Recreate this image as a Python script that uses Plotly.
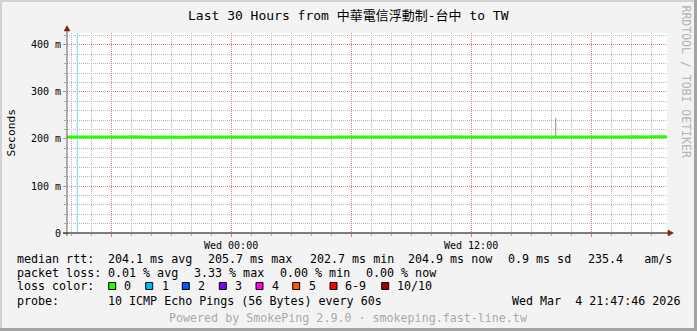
import pandas as pd
import plotly.graph_objects as go

# ---------------- data ----------------
t_start = pd.Timestamp("2026-03-03 15:47:46")
t_end = pd.Timestamp("2026-03-04 21:47:46")

median_rtt = [
    204.2, 204.0, 204.3, 204.1, 203.9, 204.4, 204.0, 204.2, 204.5, 204.1,
    203.8, 204.0, 204.3, 204.6, 204.1, 204.0, 204.2, 203.9, 204.4, 204.1,
    204.0, 204.3, 204.5, 204.2, 203.9, 204.1, 204.0, 204.6, 204.2, 204.0,
    204.1, 203.8, 204.3, 204.2, 204.4, 204.0, 204.1, 204.5, 204.0, 204.2,
    204.3, 204.0, 203.9, 204.1, 204.4, 204.2, 204.0, 204.3, 204.1, 204.6,
    204.0, 204.2, 204.1, 203.9, 204.3, 204.0, 204.5, 204.2, 204.1, 204.0,
    204.4, 204.1, 203.8, 204.2, 204.3, 204.0, 204.1, 204.5, 204.2, 204.0,
    204.3, 204.1, 204.0, 204.4, 203.9, 204.2, 204.1, 204.6, 204.0, 204.3,
    204.1, 204.2, 204.0, 204.4, 204.1, 203.9, 204.3, 204.2, 204.0, 204.5,
    204.1, 204.0, 204.3, 204.2, 204.1, 203.8, 204.4, 204.0, 204.2, 204.1,
    204.3, 204.0, 204.5, 204.1, 204.2, 203.9, 204.0, 204.4, 204.1, 204.2,
    204.0, 204.3, 204.1, 204.6, 204.0, 204.2, 204.1, 204.9, 204.3, 204.9,
    204.9,
]
n = len(median_rtt)
times = [t_start + (t_end - t_start) * i / (n - 1) for i in range(n)]

smoke_time = ["2026-03-04 16:14:00"]
smoke_lo = [203.0]
smoke_hi = [245.0]

vrule_time = ["2026-03-03 16:19:00"]

y_tickvals = [0, 100, 200, 300, 400]
y_ticktext = ["0", "100 m", "200 m", "300 m", "400 m"]
x_tickvals = ["2026-03-03 18:00", "2026-03-04 00:00", "2026-03-04 06:00",
              "2026-03-04 12:00", "2026-03-04 18:00"]
x_ticktext = ["", "Wed 00:00", "", "Wed 12:00", ""]

title_text = "Last 30 Hours from 中華電信浮動制-台中 to TW"
row_rtt = [("median rtt:", 16), ("204.1 ms avg", 107.3), ("205.7 ms max", 207.3),
           ("202.7 ms min", 309), ("204.9 ms now", 407.3), ("0.9 ms sd", 507.3),
           ("235.4   am/s", 586.7)]
row_loss = [("packet loss:", 16), ("0.01 % avg", 107.3), ("3.33 % max", 193.3),
            ("0.00 % min", 279.3), ("0.00 % now", 365)]
loss_labels = ["0", "1", "2", "3", "4", "5", "6-9", "10/10"]
loss_colors = ["#26ff00", "#00b8ff", "#0059ff", "#7e00ff", "#ff00ea",
               "#ff5500", "#ff0000", "#a10000"]
loss_box_x = [108.7, 145.7, 182.3, 219.3, 256, 292.7, 330, 381.7]
loss_text_x = [122.7, 160.7, 197.3, 234, 270.7, 307.7, 344.3, 395.7]
probe_text = "10 ICMP Echo Pings (56 Bytes) every 60s"
date_text = "Wed Mar  4 21:47:46 2026"
powered_text = "Powered by SmokePing 2.9.0 · smokeping.fast-line.tw"
side_text = "RRDTOOL / TOBI OETIKER"

# ---------------- layout geometry ----------------
W, H = 697, 331
L, R, T, B = 67, 30, 33, 98
PW, PH = W - L - R, H - T - B


def X(px):
    return (px - L) / PW


def Y(py):
    return (H - B - py) / PH


MONO = "DejaVu Sans Mono, Noto Sans CJK TC, monospace"

fig = go.Figure()

# vertical rule (blue)
for vt in vrule_time:
    fig.add_trace(go.Scatter(x=[vt, vt], y=[0, 425.5], mode="lines",
                             line=dict(color="#a6dcf2", width=1.5),
                             hoverinfo="skip", showlegend=False))

# smoke
for st, lo, hi in zip(smoke_time, smoke_lo, smoke_hi):
    fig.add_trace(go.Scatter(x=[st, st], y=[lo, hi], mode="lines",
                             line=dict(color="#8c8c8c", width=1),
                             hoverinfo="skip", showlegend=False))

# median line
fig.add_trace(go.Scatter(x=times, y=median_rtt, mode="lines",
                         line=dict(color="#26ff00", width=3),
                         showlegend=False))

grid_minor = "#b8b8b8"
grid_major = "#e08080"

fig.update_layout(
    width=W, height=H,
    margin=dict(l=L, r=R, t=T, b=B),
    paper_bgcolor="#f3f3f3",
    plot_bgcolor="#ffffff",
    font=dict(family=MONO, size=10, color="#000000"),
    showlegend=False,
    xaxis=dict(
        type="date", range=[t_start, t_end],
        tickvals=x_tickvals, ticktext=x_ticktext,
        showgrid=True, gridcolor=grid_major, griddash="1px,1px", gridwidth=1,
        ticks="outside", ticklen=3, tickcolor=grid_major,
        tickfont=dict(family=MONO, size=10, color="#000"),
        showline=False, zeroline=False,
        minor=dict(dtick=3600000, tick0="2026-03-03 00:00", showgrid=True,
                   gridcolor=grid_minor, griddash="1px,1px", gridwidth=1,
                   ticks="outside", ticklen=2, tickcolor="#aaaaaa"),
        fixedrange=True,
    ),
    yaxis=dict(
        range=[0, 425.5],
        tickvals=y_tickvals, ticktext=y_ticktext,
        showgrid=True, gridcolor=grid_major, griddash="1px,1px", gridwidth=1,
        ticks="outside", ticklen=3, tickcolor=grid_major,
        tickfont=dict(family=MONO, size=10, color="#000"),
        showline=False, zeroline=False,
        minor=dict(dtick=20, showgrid=True, gridcolor=grid_minor,
                   griddash="1px,1px", gridwidth=1,
                   ticks="outside", ticklen=2, tickcolor="#aaaaaa"),
        fixedrange=True,
    ),
)

shapes = []
# frame
shapes.append(dict(type="rect", xref="paper", yref="paper", x0=X(0), x1=X(W), y0=Y(0), y1=Y(2),
                   fillcolor="#d2d2d2", line=dict(width=0), layer="below"))
shapes.append(dict(type="rect", xref="paper", yref="paper", x0=X(0), x1=X(2), y0=Y(0), y1=Y(H),
                   fillcolor="#d2d2d2", line=dict(width=0), layer="below"))
shapes.append(dict(type="rect", xref="paper", yref="paper", x0=X(W - 3), x1=X(W), y0=Y(0), y1=Y(H),
                   fillcolor="#a3a3a3", line=dict(width=0), layer="below"))
shapes.append(dict(type="rect", xref="paper", yref="paper", x0=X(0), x1=X(W), y0=Y(H - 3), y1=Y(H),
                   fillcolor="#a3a3a3", line=dict(width=0), layer="below"))
# axes
shapes.append(dict(type="line", xref="paper", yref="paper", x0=X(67), x1=X(67), y0=Y(236), y1=Y(29),
                   line=dict(color="#606060", width=1)))
shapes.append(dict(type="line", xref="paper", yref="paper", x0=X(63), x1=X(669), y0=Y(233), y1=Y(233),
                   line=dict(color="#000000", width=1)))
# arrows
shapes.append(dict(type="path", xref="paper", yref="paper",
                   path=f"M {X(67)},{Y(25.5)} L {X(64)},{Y(31)} L {X(70)},{Y(31)} Z",
                   fillcolor="#8b1c1c", line=dict(color="#8b1c1c", width=0.5)))
shapes.append(dict(type="path", xref="paper", yref="paper",
                   path=f"M {X(673.5)},{Y(233)} L {X(668)},{Y(230)} L {X(668)},{Y(236)} Z",
                   fillcolor="#8b1c1c", line=dict(color="#8b1c1c", width=0.5)))
# loss colour boxes
for bx, col in zip(loss_box_x, loss_colors):
    shapes.append(dict(type="rect", xref="paper", yref="paper",
                       x0=X(bx), x1=X(bx + 7), y0=Y(289.5), y1=Y(282.5),
                       fillcolor=col, line=dict(color="#000000", width=1)))
fig.update_layout(shapes=shapes)

ann = []


def txt(s, px, py, size=11.66, color="#000000", xanchor="left", angle=0):
    ann.append(dict(text=s, x=X(px), y=Y(py), xref="paper", yref="paper",
                    xanchor=xanchor, yanchor="middle", showarrow=False,
                    borderpad=0, textangle=angle,
                    font=dict(family=MONO, size=size, color=color)))


txt(title_text, 348.5, 15.5, size=13, xanchor="center")
txt("Seconds", 10.5, 133, size=11.3, xanchor="center", angle=-90)
txt(side_text, 686, 81.5, size=11.5, color="#b4b4b4", xanchor="center", angle=90)
for s, px in row_rtt:
    txt(s, px, 259)
for s, px in row_loss:
    txt(s, px, 272.5)
txt("loss color:", 16, 286)
for s, px in zip(loss_labels, loss_text_x):
    txt(s, px, 286)
txt("probe:", 16, 300.5)
txt(probe_text, 107.3, 300.5)
txt(date_text, 680.5, 300.5, xanchor="right")
txt(powered_text, 348.5, 318, color="#aaaaaa", xanchor="center")
fig.update_layout(annotations=ann)

fig.write_html("out.html")
